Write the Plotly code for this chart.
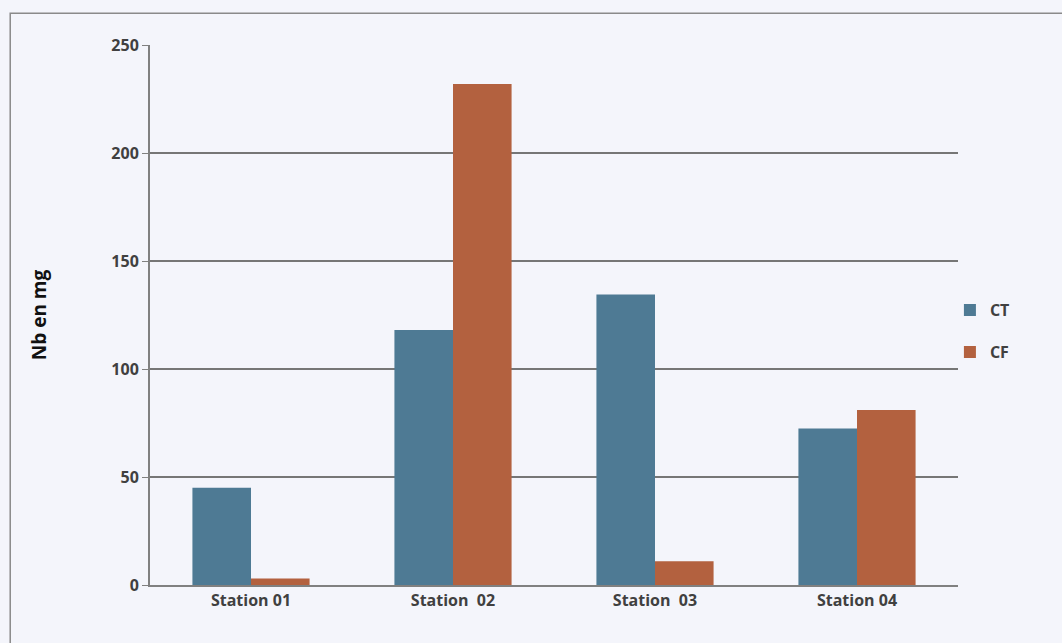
import plotly.graph_objects as go

categories = ["Station 01", "Station  02", "Station  03", "Station 04"]
ct_values = [45, 118, 134.5, 72.5]
cf_values = [3, 232, 11, 81]
y_ticks = [0, 50, 100, 150, 200, 250]

CT_COLOR = "#4e7a94"
CF_COLOR = "#b3613f"
FONT = "Open Sans"

fig = go.Figure()
fig.add_trace(go.Bar(name="CT", x=categories, y=ct_values, legendgroup="ct",
                     marker=dict(color=CT_COLOR, line=dict(width=0))))
fig.add_trace(go.Bar(name="CF", x=categories, y=cf_values, legendgroup="cf",
                     marker=dict(color=CF_COLOR, line=dict(width=0))))

fig.update_layout(
    width=1062, height=643,
    barmode="group", bargap=0.42, bargroupgap=0,
    paper_bgcolor="#f4f5fb", plot_bgcolor="#f4f5fb",
    margin=dict(l=150, r=104, t=45, b=58),
    font=dict(family=FONT, color="#404040", size=13),
    legend=dict(x=0.99, y=0.47, xanchor="left", yanchor="middle",
                font=dict(family=FONT, size=16, color="#404040", weight="bold"),
                tracegroupgap=18, itemwidth=30, bgcolor="rgba(0,0,0,0)"),
    showlegend=True,
    shapes=[dict(type="rect", xref="paper", yref="paper", x0=-0.173, x1=1.14, y0=-0.12, y1=1.059,
                 line=dict(color="#8a8a8a", width=1.5), fillcolor="rgba(0,0,0,0)", layer="below")],
)
fig.update_xaxes(showline=True, linecolor="#808080", linewidth=2, showgrid=False,
                 tickfont=dict(family=FONT, size=16, color="#404040", weight="bold"), ticks="")
fig.update_yaxes(range=[0, 250], tickvals=y_ticks, showline=True, linecolor="#808080", linewidth=2,
                 showgrid=True, gridcolor="#767676", gridwidth=1.5, ticks="outside", ticklen=6,
                 tickcolor="#808080", zeroline=False,
                 tickfont=dict(family=FONT, size=16, color="#404040", weight="bold"),
                 title=dict(text="Nb en mg", font=dict(family=FONT, size=19, color="#111111", weight="bold"), standoff=60))

fig.write_html("out.html")
